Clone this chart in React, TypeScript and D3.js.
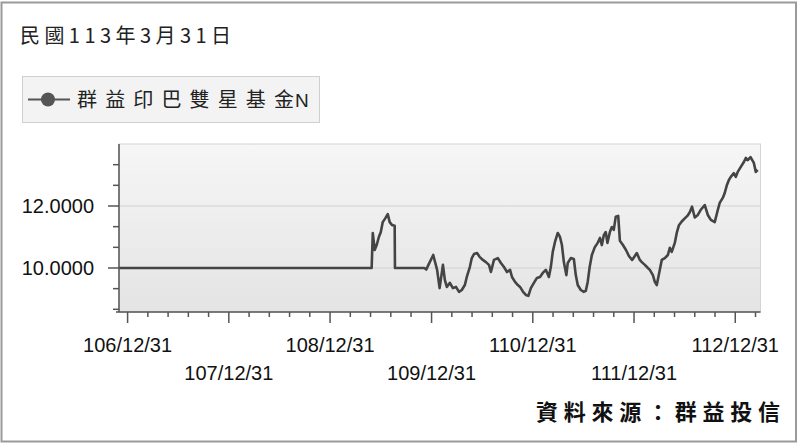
import React, { useEffect, useRef } from "react";
import * as d3 from "d3";

const titleText = "民國113年3月31日";
const seriesNameCjk = "群益印巴雙星基金";
const seriesNameSuffix = "N";
const sourceText = "資料來源：群益投信";

// NAV series (date, value)
const navDates = [
  "2017-11-30", "2020-05-29", "2020-06-02", "2020-06-09", "2020-06-16", "2020-06-24",
  "2020-07-01", "2020-07-08", "2020-07-17", "2020-07-26", "2020-08-02", "2020-08-10",
  "2020-08-20", "2020-08-21", "2020-12-05", "2020-12-12", "2020-12-17", "2021-01-06",
  "2021-01-20", "2021-01-29", "2021-02-10", "2021-02-17", "2021-02-24", "2021-03-07",
  "2021-03-18", "2021-03-29", "2021-04-09", "2021-04-19", "2021-04-30", "2021-05-07",
  "2021-05-18", "2021-05-25", "2021-06-02", "2021-06-13", "2021-06-23", "2021-07-04",
  "2021-07-15", "2021-07-26", "2021-08-02", "2021-08-13", "2021-08-27", "2021-09-07",
  "2021-09-18", "2021-09-29", "2021-10-10", "2021-10-17", "2021-10-28", "2021-11-07",
  "2021-11-15", "2021-11-26", "2021-12-06", "2021-12-15", "2021-12-24", "2022-01-04",
  "2022-01-15", "2022-01-26", "2022-02-05", "2022-02-16", "2022-02-27", "2022-03-06",
  "2022-03-13", "2022-03-21", "2022-03-31", "2022-04-08", "2022-04-15", "2022-04-22",
  "2022-05-01", "2022-05-06", "2022-05-17", "2022-05-28", "2022-06-04", "2022-06-11",
  "2022-06-22", "2022-07-03", "2022-07-10", "2022-07-17", "2022-07-24", "2022-08-01",
  "2022-08-12", "2022-08-22", "2022-08-30", "2022-09-06", "2022-09-13", "2022-09-20",
  "2022-09-26", "2022-10-05", "2022-10-12", "2022-10-19", "2022-10-26", "2022-11-04",
  "2022-11-10", "2022-11-21", "2022-12-02", "2022-12-13", "2022-12-24", "2022-12-31",
  "2023-01-10", "2023-01-21", "2023-01-28", "2023-02-08", "2023-02-19", "2023-02-26",
  "2023-03-09", "2023-03-16", "2023-03-23", "2023-04-03", "2023-04-10", "2023-04-21",
  "2023-05-02", "2023-05-09", "2023-05-16", "2023-05-27", "2023-06-03", "2023-06-11",
  "2023-06-21", "2023-07-02", "2023-07-13", "2023-07-20", "2023-07-28", "2023-08-07",
  "2023-08-18", "2023-08-28", "2023-09-12", "2023-09-23", "2023-10-04", "2023-10-18",
  "2023-10-29", "2023-11-05", "2023-11-16", "2023-11-23", "2023-12-01", "2023-12-08",
  "2023-12-15", "2023-12-26", "2024-01-02", "2024-01-09", "2024-01-20", "2024-01-31",
  "2024-02-07", "2024-02-14", "2024-02-24", "2024-03-07", "2024-03-14", "2024-03-21",
];
const navValues = [
  10.0, 10.0, 11.13, 10.58, 10.74, 11.0,
  11.16, 11.48, 11.6, 11.74, 11.48, 11.39,
  11.36, 10.0, 10.0, 9.95, 10.05, 10.42,
  9.94, 9.35, 10.1, 9.61, 9.39, 9.52,
  9.35, 9.39, 9.23, 9.29, 9.45, 9.71,
  10.03, 10.32, 10.45, 10.48, 10.35, 10.26,
  10.19, 10.1, 9.87, 10.26, 10.32, 10.16,
  10.03, 9.87, 9.94, 9.71, 9.55, 9.45,
  9.39, 9.23, 9.13, 9.1, 9.35, 9.52,
  9.68, 9.71, 9.84, 9.94, 9.71, 10.03,
  10.52, 10.84, 11.13, 11.0, 10.74, 10.19,
  9.77, 10.16, 10.32, 10.29, 9.77, 9.45,
  9.29, 9.23, 9.26, 9.55, 10.03, 10.42,
  10.68, 10.81, 10.97, 10.74, 11.06, 11.16,
  10.81, 11.16, 11.32, 11.23, 11.65, 11.68,
  10.88, 10.74, 10.58, 10.38, 10.26, 10.35,
  10.48, 10.26, 10.19, 10.1, 10.0, 9.94,
  9.77, 9.55, 9.45, 9.94, 10.26, 10.32,
  10.42, 10.65, 10.52, 10.81, 11.13, 11.38,
  11.5, 11.6, 11.7, 11.8, 11.98, 11.63,
  11.71, 11.87, 12.03, 11.71, 11.55, 11.48,
  11.87, 12.1, 12.26, 12.42, 12.68, 12.84,
  12.94, 13.06, 12.94, 13.1, 13.26, 13.42,
  13.55, 13.48, 13.58, 13.39, 13.1, 13.16,
];

const xDomain = ["2017-11-30", "2024-03-31"];
const xTickDates = [
  "2017-12-31", "2018-12-31", "2019-12-31", "2020-12-31",
  "2021-12-31", "2022-12-31", "2023-12-31",
];
const xTickLabels = [
  "106/12/31", "107/12/31", "108/12/31", "109/12/31",
  "110/12/31", "111/12/31", "112/12/31",
];
const yDomain = [8.58, 14.0];
const yTickValues = [10, 12];
const yTickLabels = ["10.0000", "12.0000"];
const yMinorValues = [8.6667, 9.3333, 10.6667, 11.3333, 12.6667, 13.3333];

const latin = "'Liberation Sans', Arial, sans-serif";
const cjk = "'Noto Sans CJK TC', 'Noto Sans CJK SC', sans-serif";

const App: React.FC = () => {
  const svgRef: any = useRef();

  useEffect(() => {
    document.body.style.margin = "0";
    const svg = d3.select(svgRef.current);
    svg.selectAll("*").remove();

    const width = 798;
    const height = 443;

    const marginLeft = 119;
    const marginRight = 37.5;
    const marginTop = 144;
    const marginBottom = 131;

    const parse = d3.timeParse("%Y-%m-%d");
    const data = navDates.map((d, i) => ({ date: parse(d) as Date, value: navValues[i] }));

    const xScale = d3
      .scaleTime()
      .domain(xDomain.map((d) => parse(d)) as any)
      .range([marginLeft, width - marginRight]);

    const yScale = d3
      .scaleLinear()
      .domain(yDomain)
      .range([height - marginBottom, marginTop]);

    const x0 = marginLeft;
    const x1 = width - marginRight;
    const y0 = height - marginBottom;
    const y1 = marginTop;

    // outer frame
    svg
      .append("rect")
      .attr("x", 1.5)
      .attr("y", 2.5)
      .attr("width", width - 3.5)
      .attr("height", height - 4)
      .attr("fill", "#fff")
      .attr("stroke", "#9a9a9a")
      .attr("stroke-width", 2);

    // title
    svg
      .append("text")
      .attr("x", 20)
      .attr("y", 43)
      .attr("font-family", cjk)
      .attr("font-size", "20px")
      .attr("fill", "#222")
      .attr("textLength", 211)
      .attr("lengthAdjust", "spacing")
      .text(titleText);

    // legend
    svg
      .append("rect")
      .attr("x", 22.5)
      .attr("y", 76.5)
      .attr("width", 297)
      .attr("height", 46)
      .attr("fill", "#f3f3f3")
      .attr("stroke", "#cfcfcf");
    svg
      .append("line")
      .attr("x1", 28)
      .attr("x2", 70)
      .attr("y1", 99.5)
      .attr("y2", 99.5)
      .attr("stroke", "#555")
      .attr("stroke-width", 2);
    svg
      .append("circle")
      .attr("cx", 48)
      .attr("cy", 99.5)
      .attr("r", 7)
      .attr("fill", "#555");
    svg
      .append("text")
      .attr("x", 77)
      .attr("y", 107)
      .attr("font-family", cjk)
      .attr("font-size", "20px")
      .attr("fill", "#222")
      .attr("textLength", 217)
      .attr("lengthAdjust", "spacing")
      .text(seriesNameCjk);
    svg
      .append("text")
      .attr("x", 295)
      .attr("y", 107)
      .attr("font-family", latin)
      .attr("font-size", "19px")
      .attr("fill", "#222")
      .text(seriesNameSuffix);

    // plot background
    const grad = svg
      .append("defs")
      .append("linearGradient")
      .attr("id", "plotBg")
      .attr("x1", 0)
      .attr("y1", 0)
      .attr("x2", 0)
      .attr("y2", 1);
    grad.append("stop").attr("offset", "0%").attr("stop-color", "#f6f6f6");
    grad.append("stop").attr("offset", "100%").attr("stop-color", "#e4e4e4");

    svg
      .append("rect")
      .attr("x", x0)
      .attr("y", y1)
      .attr("width", x1 - x0)
      .attr("height", y0 - y1)
      .attr("fill", "url(#plotBg)")
      .attr("stroke", "#d4d4d4");

    // grid lines
    yTickValues.forEach((v) => {
      svg
        .append("line")
        .attr("x1", x0)
        .attr("x2", x1)
        .attr("y1", yScale(v))
        .attr("y2", yScale(v))
        .attr("stroke", "#d2d2d2")
        .attr("stroke-width", 1.2);
    });

    // series line
    const line: any = d3
      .line()
      .x((d: any) => xScale(d.date))
      .y((d: any) => yScale(d.value))
      .curve(d3.curveLinear);

    svg
      .append("path")
      .datum(data)
      .attr("fill", "none")
      .attr("stroke", "#444")
      .attr("stroke-width", 2.6)
      .attr("stroke-linejoin", "round")
      .attr("d", line);

    // axes
    const axisColor = "#555";
    svg
      .append("line")
      .attr("x1", x0)
      .attr("x2", x0)
      .attr("y1", y1)
      .attr("y2", y0)
      .attr("stroke", axisColor)
      .attr("stroke-width", 1.5);
    svg
      .append("line")
      .attr("x1", x0 - 3)
      .attr("x2", x1)
      .attr("y1", y0)
      .attr("y2", y0)
      .attr("stroke", axisColor)
      .attr("stroke-width", 1.5);

    yTickValues.forEach((v, i) => {
      const y = yScale(v);
      svg
        .append("line")
        .attr("x1", x0 - 11)
        .attr("x2", x0)
        .attr("y1", y)
        .attr("y2", y)
        .attr("stroke", axisColor)
        .attr("stroke-width", 1.5);
      svg
        .append("text")
        .attr("x", 94)
        .attr("y", y + 7)
        .attr("text-anchor", "end")
        .attr("font-family", latin)
        .attr("font-size", "20px")
        .attr("fill", "#111")
        .text(yTickLabels[i]);
    });

    yMinorValues.forEach((v) => {
      svg
        .append("line")
        .attr("x1", x0 - 6)
        .attr("x2", x0)
        .attr("y1", yScale(v))
        .attr("y2", yScale(v))
        .attr("stroke", axisColor)
        .attr("stroke-width", 1.5);
    });

    const majors = xTickDates.map((d) => parse(d) as Date);
    const minors: Date[] = [];
    majors.forEach((m) => {
      for (let k = 1; k <= 4; k++) {
        const d = d3.timeDay.offset(m, Math.round(k * 73));
        if (xScale(d) < x1) minors.push(d);
      }
    });

    minors.forEach((d) => {
      svg
        .append("line")
        .attr("x1", xScale(d))
        .attr("x2", xScale(d))
        .attr("y1", y0)
        .attr("y2", y0 + 5)
        .attr("stroke", axisColor)
        .attr("stroke-width", 1.5);
    });

    majors.forEach((d, i) => {
      const x = xScale(d);
      svg
        .append("line")
        .attr("x1", x)
        .attr("x2", x)
        .attr("y1", y0)
        .attr("y2", y0 + 11)
        .attr("stroke", axisColor)
        .attr("stroke-width", 1.5);
      svg
        .append("text")
        .attr("x", x)
        .attr("y", i % 2 === 0 ? 352 : 380)
        .attr("text-anchor", "middle")
        .attr("font-family", latin)
        .attr("font-size", "20px")
        .attr("fill", "#111")
        .text(xTickLabels[i]);
    });

    // source note
    svg
      .append("text")
      .attr("x", 536)
      .attr("y", 420)
      .attr("font-family", cjk)
      .attr("font-size", "22px")
      .attr("font-weight", 700)
      .attr("fill", "#111")
      .attr("textLength", 244)
      .attr("lengthAdjust", "spacing")
      .text(sourceText);
  }, []);

  return (
    <svg
      ref={svgRef}
      width={798}
      height={443}
      style={{ display: "block" }}
    />
  );
};

export default App;
